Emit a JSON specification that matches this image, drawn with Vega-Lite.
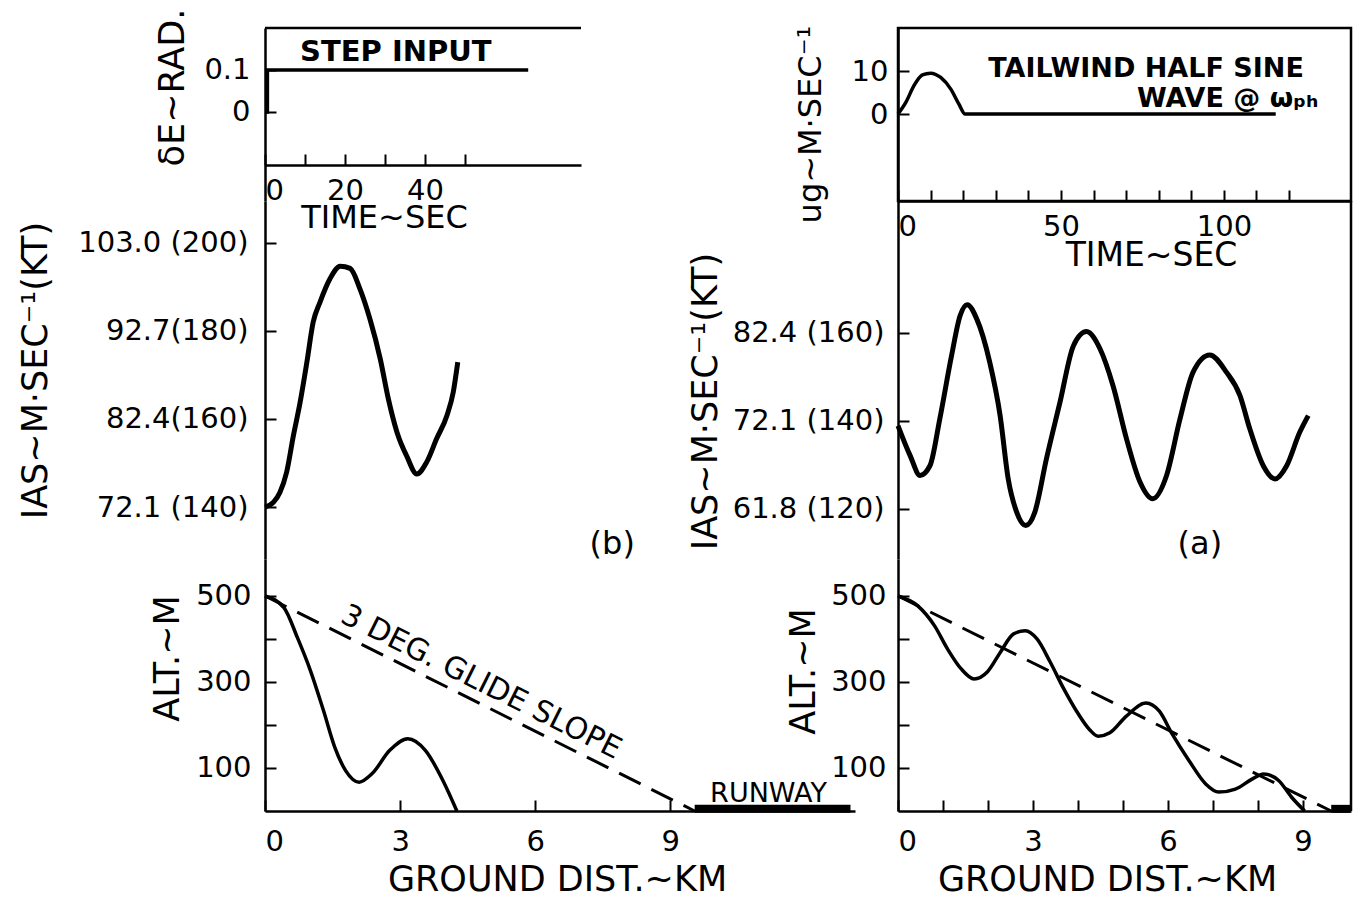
{
  "$schema": "https://vega.github.io/schema/vega-lite/v6.json",
  "background": "white",
  "padding": {"left": 17, "top": 8, "right": 5, "bottom": 0},
  "config": {
    "font": "DejaVu Sans",
    "view": {"stroke": null},
    "axis": {"grid": false, "domainColor": "black", "domainWidth": 2.5, "tickColor": "black", "tickWidth": 2, "tickSize": -11, "labelColor": "black", "labelFont": "DejaVu Sans", "labelFontSize": 29, "labelOverlap": false, "titleColor": "black", "titleFont": "DejaVu Sans", "titleFontSize": 35, "titleFontWeight": "normal", "titleBaseline": "middle"},
    "line": {"color": "black"},
    "text": {"color": "black", "font": "DejaVu Sans"}
  },
  "datasets": {
    "step": [{"i": 0, "t": 0, "d": 0}, {"i": 1, "t": 0.6, "d": 0}, {"i": 2, "t": 0.6, "d": 0.1}, {"i": 3, "t": 65.8, "d": 0.1}],
    "gust": [{"t": 0, "u": 0}, {"t": 2.4, "u": 2.7}, {"t": 4.9, "u": 6.6}, {"t": 7.5, "u": 9.1}, {"t": 10, "u": 9.5}, {"t": 13.1, "u": 8.5}, {"t": 16.2, "u": 5.8}, {"t": 18.7, "u": 2.3}, {"t": 20.6, "u": 0}, {"t": 115.9, "u": 0}],
    "iasL": [{"km": 0, "kt": 140}, {"km": 0.19, "kt": 141.1}, {"km": 0.33, "kt": 143.3}, {"km": 0.48, "kt": 147.9}, {"km": 0.63, "kt": 156.2}, {"km": 0.78, "kt": 163.8}, {"km": 0.93, "kt": 172.9}, {"km": 1.07, "kt": 182.0}, {"km": 1.22, "kt": 186.5}, {"km": 1.44, "kt": 191.8}, {"km": 1.67, "kt": 194.7}, {"km": 1.89, "kt": 194.2}, {"km": 2.11, "kt": 189.5}, {"km": 2.33, "kt": 182.7}, {"km": 2.56, "kt": 173.6}, {"km": 2.74, "kt": 164.5}, {"km": 2.93, "kt": 157.0}, {"km": 3.15, "kt": 151.5}, {"km": 3.37, "kt": 147.5}, {"km": 3.59, "kt": 150.2}, {"km": 3.81, "kt": 155.5}, {"km": 4.04, "kt": 160.8}, {"km": 4.18, "kt": 166.1}, {"km": 4.28, "kt": 172.9}],
    "iasR": [{"km": 0, "kt": 138.9}, {"km": 0.27, "kt": 132.1}, {"km": 0.49, "kt": 127.6}, {"km": 0.71, "kt": 129.8}, {"km": 0.93, "kt": 140.5}, {"km": 1.19, "kt": 154.8}, {"km": 1.38, "kt": 163.9}, {"km": 1.54, "kt": 166.4}, {"km": 1.75, "kt": 163.2}, {"km": 2.04, "kt": 153.3}, {"km": 2.27, "kt": 141.2}, {"km": 2.45, "kt": 126.8}, {"km": 2.64, "kt": 119.2}, {"km": 2.84, "kt": 116.2}, {"km": 3.04, "kt": 119.2}, {"km": 3.3, "kt": 131.4}, {"km": 3.6, "kt": 144.2}, {"km": 3.9, "kt": 157.1}, {"km": 4.19, "kt": 160.3}, {"km": 4.49, "kt": 156.4}, {"km": 4.78, "kt": 148.0}, {"km": 5.08, "kt": 135.9}, {"km": 5.38, "kt": 126.1}, {"km": 5.66, "kt": 122.3}, {"km": 5.97, "kt": 127.6}, {"km": 6.27, "kt": 140.5}, {"km": 6.56, "kt": 151.1}, {"km": 6.93, "kt": 155.0}, {"km": 7.3, "kt": 151.1}, {"km": 7.6, "kt": 145.8}, {"km": 7.82, "kt": 138.2}, {"km": 8.12, "kt": 129.8}, {"km": 8.38, "kt": 126.8}, {"km": 8.64, "kt": 129.8}, {"km": 8.93, "kt": 137.4}, {"km": 9.12, "kt": 141.2}],
    "altL": [{"km": 0, "m": 500}, {"km": 0.42, "m": 473}, {"km": 0.72, "m": 403}, {"km": 1.01, "m": 326}, {"km": 1.3, "m": 233}, {"km": 1.55, "m": 148}, {"km": 1.79, "m": 94}, {"km": 2.09, "m": 67}, {"km": 2.38, "m": 87}, {"km": 2.77, "m": 141}, {"km": 3.17, "m": 168}, {"km": 3.56, "m": 141}, {"km": 3.95, "m": 71}, {"km": 4.26, "m": 0}],
    "altR": [{"km": 0, "m": 500}, {"km": 0.44, "m": 477}, {"km": 0.81, "m": 431}, {"km": 1.1, "m": 377}, {"km": 1.4, "m": 331}, {"km": 1.69, "m": 307}, {"km": 1.99, "m": 324}, {"km": 2.28, "m": 370}, {"km": 2.57, "m": 412}, {"km": 2.83, "m": 419}, {"km": 3.09, "m": 400}, {"km": 3.38, "m": 347}, {"km": 3.68, "m": 285}, {"km": 3.97, "m": 232}, {"km": 4.26, "m": 189}, {"km": 4.45, "m": 174}, {"km": 4.71, "m": 182}, {"km": 5.07, "m": 220}, {"km": 5.51, "m": 251}, {"km": 5.81, "m": 232}, {"km": 6.1, "m": 178}, {"km": 6.47, "m": 117}, {"km": 6.84, "m": 63}, {"km": 7.13, "m": 44}, {"km": 7.5, "m": 51}, {"km": 7.87, "m": 74}, {"km": 8.13, "m": 86}, {"km": 8.46, "m": 71}, {"km": 8.75, "m": 32}, {"km": 9.04, "m": 0}],
    "glideL": [{"km": 0, "m": 500}, {"km": 9.54, "m": 0}],
    "glideR": [{"km": 0, "m": 500}, {"km": 9.63, "m": 0}],
    "runL": [{"km": 9.54, "m": 5}, {"km": 13.0, "m": 5}],
    "runR": [{"km": 9.63, "m": 5}, {"km": 10.05, "m": 5}]
  },
  "columns": 2,
  "bounds": "flush",
  "align": "each",
  "spacing": {"row": 0, "column": 43},
  "concat": [
    {
      "width": 316, "height": 173,
      "layer": [
        {
          "data": {"name": "step"},
          "mark": {"type": "line", "strokeWidth": 3.5, "color": "black"},
          "encoding": {
            "x": {"field": "t", "type": "quantitative", "scale": {"domain": [0, 79], "nice": false, "zero": false},
                  "axis": {"offset": -36, "values": [0, 10, 20, 30, 40, 50], "labelExpr": "datum.value % 20 == 0 ? datum.label : ''", "labelFlush": true, "labelOverlap": false, "labelPadding": 22, "title": "TIME~SEC", "titleFontSize": 32, "titleX": 119, "titleY": 52}},
            "y": {"field": "d", "type": "quantitative", "scale": {"domain": [-0.212, 0.2], "nice": false, "zero": false},
                  "axis": {"values": [0, 0.1], "format": "~g", "labelOverlap": false, "labelPadding": 26, "title": "δE~RAD.", "titleX": -93, "titleY": 59}},
            "order": {"field": "i"}
          }
        },
        {
          "data": {"values": [{}]},
          "mark": {"type": "rule", "strokeWidth": 2.5, "color": "black"},
          "encoding": {"y": {"datum": 0.2, "type": "quantitative"}}
        },
        {
          "data": {"values": [{}]},
          "mark": {"type": "text", "fontSize": 29, "fontWeight": "bold"},
          "encoding": {"x": {"datum": 32.7, "type": "quantitative"}, "y": {"datum": 0.143, "type": "quantitative"}, "text": {"value": "STEP INPUT"}}
        }
      ]
    },
    {
      "width": 453, "height": 173,
      "view": {"stroke": "black", "strokeWidth": 2.5},
      "resolve": {"axis": {"x": "independent"}},
      "layer": [
        {
          "data": {"name": "gust"},
          "mark": {"type": "line", "strokeWidth": 3.5, "color": "black", "interpolate": "monotone"},
          "encoding": {
            "x": {"field": "t", "type": "quantitative", "scale": {"domain": [0, 139], "nice": false, "zero": false},
                  "axis": {"orient": "bottom", "values": [0, 50, 100], "labelFlush": true, "labelOverlap": false, "labelPadding": 22, "title": "TIME~SEC", "titleFontSize": 33, "titleX": 253, "titleY": 54}},
            "y": {"field": "u", "type": "quantitative", "scale": {"domain": [-20.2, 20], "nice": false, "zero": false},
                  "axis": {"values": [0, 10], "labelOverlap": false, "labelPadding": 21, "title": "ug~M·SEC⁻¹", "titleFontSize": 32, "titleX": -88, "titleY": 96}}
          }
        },
        {
          "data": {"name": "gust"},
          "mark": {"type": "line", "opacity": 0},
          "encoding": {
            "x": {"field": "t", "type": "quantitative", "scale": {"domain": [0, 139], "nice": false, "zero": false},
                  "axis": {"orient": "bottom", "values": [10, 20, 30, 40, 60, 70, 80, 90, 110, 120], "labels": false, "domain": false, "title": null}},
            "y": {"field": "u", "type": "quantitative"}
          }
        },
        {
          "data": {"values": [{}]},
          "mark": {"type": "text", "fontSize": 27, "fontWeight": "bold"},
          "encoding": {"x": {"datum": 76.1, "type": "quantitative", "axis": null}, "y": {"datum": 10.5, "type": "quantitative"}, "text": {"value": "TAILWIND  HALF SINE"}}
        },
        {
          "data": {"values": [{}]},
          "mark": {"type": "text", "fontSize": 27, "fontWeight": "bold", "align": "right"},
          "encoding": {"x": {"datum": 129, "type": "quantitative", "axis": null}, "y": {"datum": 3.5, "type": "quantitative"}, "text": {"value": "WAVE @ ωₚₕ"}}
        }
      ]
    },
    {
      "width": 590, "height": 358,
      "layer": [
        {
          "data": {"name": "iasL"},
          "mark": {"type": "line", "strokeWidth": 5, "color": "black", "interpolate": "monotone"},
          "encoding": {
            "x": {"field": "km", "type": "quantitative", "scale": {"domain": [0, 13.1], "nice": false, "zero": false}, "axis": null},
            "y": {"field": "kt", "type": "quantitative", "scale": {"domain": [128.2, 209.5], "nice": false, "zero": false},
                  "axis": {"values": [140, 160, 180, 200], "labelExpr": "datum.value == 200 ? '103.0 (200)' : datum.value == 180 ? '92.7(180)' : datum.value == 160 ? '82.4(160)' : '72.1 (140)'", "labelOverlap": false, "labelPadding": 28, "title": "IAS~M·SEC⁻¹(KT)", "titleX": -230, "titleY": 169}}
          }
        },
        {
          "data": {"values": [{}]},
          "mark": {"type": "text", "fontSize": 32},
          "encoding": {"x": {"datum": 7.71, "type": "quantitative"}, "y": {"datum": 131.6, "type": "quantitative"}, "text": {"value": "(b)"}}
        }
      ]
    },
    {
      "width": 453, "height": 358,
      "layer": [
        {
          "data": {"name": "iasR"},
          "mark": {"type": "line", "strokeWidth": 5, "color": "black", "interpolate": "monotone"},
          "encoding": {
            "x": {"field": "km", "type": "quantitative", "scale": {"domain": [0, 10.07], "nice": false, "zero": false}, "axis": null},
            "y": {"field": "kt", "type": "quantitative", "scale": {"domain": [108.6, 190], "nice": false, "zero": false},
                  "axis": {"values": [120, 140, 160], "labelExpr": "datum.value == 160 ? '82.4 (160)' : datum.value == 140 ? '72.1 (140)' : '61.8 (120)'", "labelOverlap": false, "labelPadding": 25, "title": "IAS~M·SEC⁻¹(KT)", "titleX": -193, "titleY": 200}}
          }
        },
        {
          "data": {"values": [{}]},
          "mark": {"type": "rule", "strokeWidth": 2.5, "color": "black"},
          "encoding": {"x": {"datum": 10.07, "type": "quantitative"}}
        },
        {
          "data": {"values": [{}]},
          "mark": {"type": "text", "fontSize": 32},
          "encoding": {"x": {"datum": 6.71, "type": "quantitative"}, "y": {"datum": 112, "type": "quantitative"}, "text": {"value": "(a)"}}
        }
      ]
    },
    {
      "width": 590, "height": 252,
      "layer": [
        {
          "data": {"name": "altL"},
          "mark": {"type": "line", "strokeWidth": 3.5, "color": "black", "interpolate": "monotone"},
          "encoding": {
            "x": {"field": "km", "type": "quantitative", "scale": {"domain": [0, 13.1], "nice": false, "zero": false},
                  "axis": {"values": [0, 3, 6, 9], "labelOverlap": false, "labelPadding": 27, "title": "GROUND DIST.~KM", "titleX": 292, "titleY": 68}},
            "y": {"field": "m", "type": "quantitative", "scale": {"domain": [0, 586], "nice": false, "zero": false},
                  "axis": {"values": [100, 200, 300, 400, 500], "labelExpr": "datum.value % 200 == 100 ? datum.label : ''", "labelOverlap": false, "labelPadding": 25, "title": "ALT.~M", "titleX": -98, "titleY": 99}}
          }
        },
        {
          "data": {"name": "glideL"},
          "mark": {"type": "line", "strokeWidth": 3, "strokeDash": [24, 12], "color": "black"},
          "encoding": {"x": {"field": "km", "type": "quantitative"}, "y": {"field": "m", "type": "quantitative"}}
        },
        {
          "data": {"name": "runL"},
          "mark": {"type": "line", "strokeWidth": 8, "strokeCap": "butt", "color": "black"},
          "encoding": {"x": {"field": "km", "type": "quantitative"}, "y": {"field": "m", "type": "quantitative"}}
        },
        {
          "data": {"values": [{}]},
          "mark": {"type": "text", "fontSize": 30, "angle": 26.5},
          "encoding": {"x": {"datum": 4.8, "type": "quantitative"}, "y": {"datum": 299, "type": "quantitative"}, "text": {"value": "3 DEG. GLIDE SLOPE"}}
        },
        {
          "data": {"values": [{}]},
          "mark": {"type": "text", "fontSize": 27},
          "encoding": {"x": {"datum": 11.18, "type": "quantitative"}, "y": {"datum": 40, "type": "quantitative"}, "text": {"value": "RUNWAY"}}
        }
      ]
    },
    {
      "width": 453, "height": 252,
      "layer": [
        {
          "data": {"name": "altR"},
          "mark": {"type": "line", "strokeWidth": 3.5, "color": "black", "interpolate": "monotone"},
          "encoding": {
            "x": {"field": "km", "type": "quantitative", "scale": {"domain": [0, 10.07], "nice": false, "zero": false},
                  "axis": {"values": [0, 1, 2, 3, 4, 5, 6, 7, 8, 9], "labelExpr": "datum.value % 3 == 0 ? datum.label : ''", "labelOverlap": false, "labelPadding": 27, "title": "GROUND DIST.~KM", "titleX": 209, "titleY": 68}},
            "y": {"field": "m", "type": "quantitative", "scale": {"domain": [0, 586], "nice": false, "zero": false},
                  "axis": {"values": [100, 200, 300, 400, 500], "labelExpr": "datum.value % 200 == 100 ? datum.label : ''", "labelOverlap": false, "labelPadding": 23, "title": "ALT.~M", "titleX": -95, "titleY": 112}}
          }
        },
        {
          "data": {"name": "glideR"},
          "mark": {"type": "line", "strokeWidth": 3, "strokeDash": [24, 12], "color": "black"},
          "encoding": {"x": {"field": "km", "type": "quantitative"}, "y": {"field": "m", "type": "quantitative"}}
        },
        {
          "data": {"name": "runR"},
          "mark": {"type": "line", "strokeWidth": 8, "strokeCap": "butt", "color": "black"},
          "encoding": {"x": {"field": "km", "type": "quantitative"}, "y": {"field": "m", "type": "quantitative"}}
        },
        {
          "data": {"values": [{}]},
          "mark": {"type": "rule", "strokeWidth": 2.5, "color": "black"},
          "encoding": {"x": {"datum": 10.07, "type": "quantitative"}}
        }
      ]
    }
  ]
}
